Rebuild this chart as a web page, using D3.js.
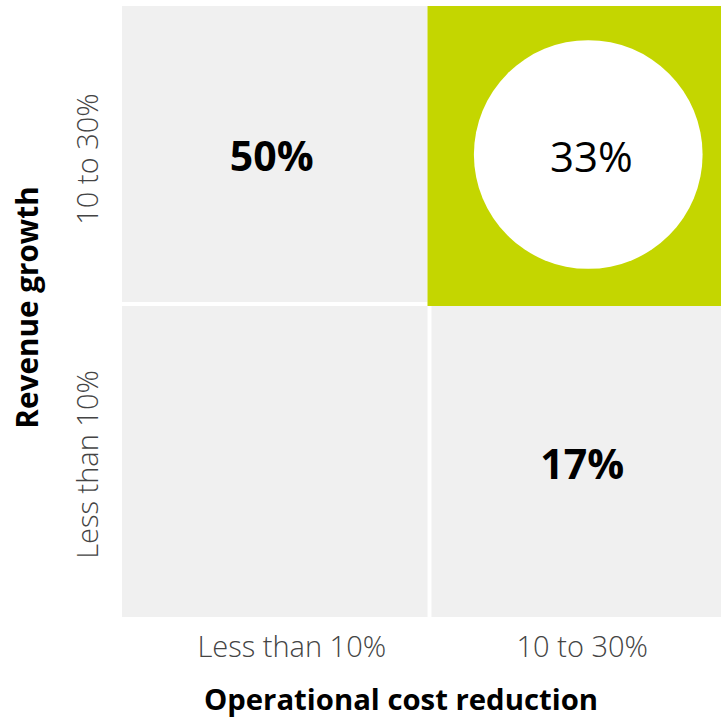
<!DOCTYPE html>
<html>
<head>
<meta charset="utf-8">
<script src="https://cdn.jsdelivr.net/npm/d3@7"></script>
<style>
  html, body { margin: 0; padding: 0; background: #fff; }
  svg { display: block; font-family: "Open Sans", sans-serif; }
</style>
</head>
<body>
<svg id="chart" width="721" height="719"></svg>
<script>
// Categories on each axis
const costCategories = ["Less than 10%", "10 to 30%"];      // x: operational cost reduction
const revenueCategories = ["10 to 30%", "Less than 10%"];   // y: revenue growth (top to bottom)

// Share of respondents in each cell
const cellCost =    ["Less than 10%", "10 to 30%",  "Less than 10%", "10 to 30%"];
const cellRevenue = ["10 to 30%",     "10 to 30%",  "Less than 10%", "Less than 10%"];
const cellShare =   [50,              33,           null,            17];
const cellHighlight = [false,         true,         false,           false];

const cells = cellShare.map((v, i) => ({
  cost: cellCost[i], revenue: cellRevenue[i], share: v, highlight: cellHighlight[i]
}));

const svg = d3.select("#chart");
const GREY = "#f0f0f0", GREEN = "#c4d600";
const GAP = 4;
const valueNudge = [-3, 6];   // horizontal label nudge per column
const tickNudge = [16, 7];

// Grid edges: index scales mapping column/row boundaries to pixels
const xi = d3.scaleLinear().domain([0, 1, 2]).range([122, 429.5, 721]);
const yi = d3.scaleLinear().domain([0, 1, 2]).range([6, 304, 617]);
const colIdx = d3.scaleOrdinal().domain(costCategories).range([0, 1]);
const rowIdx = d3.scaleOrdinal().domain(revenueCategories).range([0, 1]);

// Cell box (gutters taken out on inner sides)
function box(d) {
  const c = colIdx(d.cost), r = rowIdx(d.revenue);
  const x0 = xi(c) + (c > 0 ? GAP / 2 : 0);
  const x1 = xi(c + 1) - (c < 1 ? GAP / 2 : 0);
  const y0 = yi(r) + (r > 0 ? GAP / 2 : 0);
  const y1 = yi(r + 1) - (r < 1 ? GAP / 2 : 0);
  return { c, r, x0, x1, y0, y1, cx: (x0 + x1) / 2, cy: (y0 + y1) / 2, w: x1 - x0, h: y1 - y0 };
}

const g = svg.append("g");

// Grid cells; the highlighted one also fills the gutters next to it
g.selectAll("rect.cell").data(cells).join("rect")
  .attr("class", "cell")
  .attr("x", d => box(d).x0 - (d.highlight ? GAP : 0))
  .attr("y", d => box(d).y0)
  .attr("width", d => box(d).w + (d.highlight ? GAP : 0))
  .attr("height", d => box(d).h + (d.highlight ? GAP : 0))
  .attr("fill", d => d.highlight ? GREEN : GREY);

// White disc in the highlighted cell
g.selectAll("circle.spot").data(cells.filter(d => d.highlight)).join("circle")
  .attr("class", "spot")
  .attr("cx", d => box(d).cx + 12)
  .attr("cy", d => box(d).cy + 0.5)
  .attr("r", d => Math.min(box(d).w, box(d).h) * 0.395)
  .attr("fill", "#fff");

// Value labels
g.selectAll("text.value").data(cells.filter(d => d.share != null)).join("text")
  .attr("class", "value")
  .attr("x", d => box(d).cx + valueNudge[box(d).c] + (d.highlight ? 9 : 0))
  .attr("y", d => box(d).cy + 1)
  .attr("text-anchor", "middle")
  .attr("dominant-baseline", "central")
  .attr("font-size", d => d.highlight ? 42 : 41)
  .attr("font-weight", d => d.highlight ? 500 : 700)
  .attr("fill", "#000")
  .text(d => d.share + "%");

// X axis tick labels
svg.append("g").selectAll("text").data(costCategories).join("text")
  .attr("x", d => (xi(colIdx(d)) + xi(colIdx(d) + 1)) / 2 + tickNudge[colIdx(d)])
  .attr("y", 657)
  .attr("text-anchor", "middle")
  .attr("font-size", 29)
  .attr("font-weight", 300)
  .attr("fill", "#444")
  .text(d => d);

// Y axis tick labels (rotated)
svg.append("g").selectAll("text").data(revenueCategories).join("text")
  .attr("transform", d => `translate(98,${(yi(rowIdx(d)) + yi(rowIdx(d) + 1)) / 2 + 4}) rotate(-90)`)
  .attr("text-anchor", "middle")
  .attr("font-size", 29)
  .attr("font-weight", 300)
  .attr("fill", "#444")
  .text(d => d);

// Axis titles
svg.append("text")
  .attr("x", 401).attr("y", 710)
  .attr("text-anchor", "middle")
  .attr("font-size", 29.3)
  .attr("font-weight", 700)
  .attr("fill", "#000")
  .text("Operational cost reduction");

svg.append("text")
  .attr("transform", "translate(38,307.5) rotate(-90)")
  .attr("text-anchor", "middle")
  .attr("font-size", 29.7)
  .attr("font-weight", 700)
  .attr("fill", "#000")
  .text("Revenue growth");
</script>
</body>
</html>
